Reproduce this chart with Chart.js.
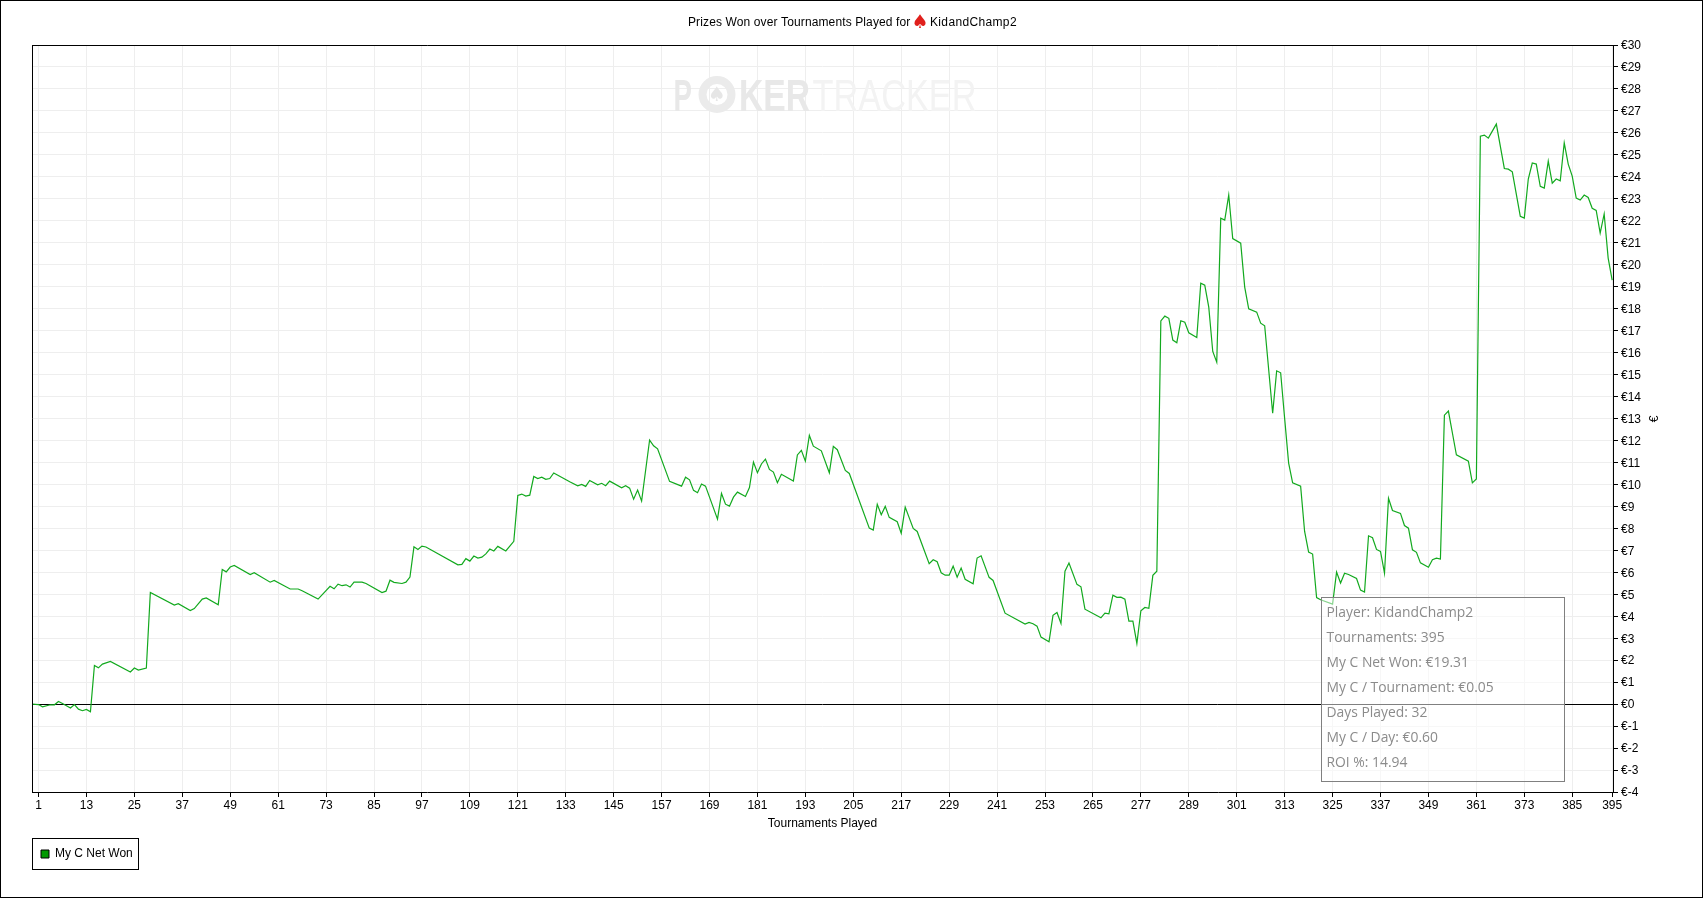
<!DOCTYPE html>
<html><head><meta charset="utf-8">
<style>html,body{margin:0;padding:0;background:#fff}canvas{display:block}</style>
<script src="https://cdn.jsdelivr.net/npm/chart.js@4"></script></head>
<body><canvas id="c" width="1703" height="898"></canvas>
<script>
const tournaments=[-0.6,1,2,4,5,6,7,9,10,11,12,13,14,15,16,17,19,24,25,26,28,29,35,36,39,40,42,43,46,47,48,49,50,54,55,59,60,64,66,67,71,74,75,76,77,78,79,80,82,83,87,88,89,90,92,93,94,95,96,97,98,106,107,108,109,110,111,112,113,114,115,116,118,120,121,122,123,124,125,126,127,128,129,130,134,136,137,138,139,141,142,143,144,147,148,149,150,151,152,154,155,156,159,162,163,164,165,166,167,168,171,172,173,174,175,176,178,179,180,181,182,183,184,185,186,187,190,191,192,193,194,195,197,199,200,201,203,204,209,210,211,212,213,214,216,217,218,220,221,224,225,226,227,228,229,230,231,232,233,235,236,237,239,240,243,248,249,250,251,252,254,255,256,257,258,259,261,262,263,267,268,269,270,271,272,273,274,275,276,277,278,279,280,281,282,283,284,285,286,287,288,289,291,292,293,294,295,296,297,298,299,300,302,303,304,306,307,308,310,311,312,313,314,315,317,318,319,320,321,322,325,326,327,328,329,331,332,333,334,335,336,337,338,339,340,342,343,344,345,346,347,349,350,351,352,353,354,355,356,359,360,361,362,363,364,366,368,369,370,372,373,374,375,376,377,378,379,380,381,382,383,384,385,386,387,388,389,390,391,392,393,394,395];
const netWon=[0,-0.02,-0.12,-0.03,-0.03,0.12,0.03,-0.18,-0.02,-0.23,-0.30,-0.24,-0.35,1.76,1.65,1.82,1.94,1.46,1.64,1.55,1.64,5.08,4.51,4.57,4.26,4.35,4.78,4.83,4.52,6.13,6.02,6.24,6.31,5.90,5.98,5.55,5.63,5.24,5.24,5.16,4.78,5.36,5.25,5.46,5.39,5.43,5.33,5.55,5.55,5.49,5.08,5.14,5.64,5.54,5.49,5.55,5.78,7.16,7.04,7.19,7.15,6.34,6.36,6.62,6.51,6.74,6.65,6.69,6.84,7.06,6.97,7.18,6.97,7.41,9.50,9.56,9.47,9.51,10.36,10.27,10.33,10.23,10.27,10.52,10.12,9.94,10.0,9.91,10.18,9.98,10.05,9.94,10.15,9.85,9.94,9.83,9.33,9.74,9.24,12.02,11.76,11.62,10.14,9.92,10.33,10.21,9.73,9.62,10.02,9.92,8.42,9.59,9.10,9.01,9.42,9.65,9.45,9.86,11.02,10.53,10.93,11.15,10.68,10.56,10.08,10.46,10.15,11.34,11.55,11.06,12.23,11.74,11.53,10.53,11.73,11.58,10.64,10.5,8.01,7.92,9.09,8.62,9.0,8.5,8.3,7.78,8.97,8.0,7.86,6.39,6.57,6.48,5.98,5.87,5.87,6.28,5.78,6.19,5.68,5.48,6.65,6.75,5.77,5.63,4.14,3.64,3.72,3.66,3.55,3.05,2.84,4.04,4.17,3.67,6.05,6.42,5.45,5.34,4.32,3.93,4.14,4.11,4.96,4.86,4.87,4.78,3.78,3.78,2.76,4.25,4.40,4.36,5.86,6.05,17.44,17.66,17.56,16.57,16.45,17.45,17.38,16.9,16.69,19.16,19.07,18.07,16.05,15.56,22.12,22.03,23.17,21.19,20.98,18.98,17.99,17.84,17.34,17.22,13.24,15.17,15.08,13.0,10.97,10.07,9.92,7.86,6.92,6.83,4.85,4.75,4.55,6.01,5.51,5.96,5.9,5.72,5.19,5.1,7.66,7.57,7.04,6.95,5.96,9.37,8.81,8.68,8.13,8.01,7.02,6.91,6.43,6.23,6.57,6.64,6.6,13.15,13.34,12.34,11.35,11.06,10.07,10.25,25.85,25.9,25.76,26.4,24.38,24.35,24.23,22.2,22.12,23.9,24.63,24.58,23.57,23.49,24.71,23.71,23.9,23.82,25.54,24.58,24.03,23.03,22.94,23.17,23.06,22.57,22.47,21.44,22.31,20.3,19.3];
const xTicks=[1,13,25,37,49,61,73,85,97,109,121,133,145,157,169,181,193,205,217,229,241,253,265,277,289,301,313,325,337,349,361,373,385,395];
const seriesName='My C Net Won';
const titleParts=['Prizes Won over Tournaments Played for','\u2660','KidandChamp2'];
const summaryLines=['Player: KidandChamp2','Tournaments: 395','My C Net Won: \u20AC19.31','My C / Tournament: \u20AC0.05','Days Played: 32','My C / Day: \u20AC0.60','ROI %: 14.94'];

const FONT='"Liberation Sans", Arial, sans-serif';
function fitText(c,s,x0,x1,base){const w=c.measureText(s).width;c.save();c.translate(x0,base);c.scale((x1-x0)/w,1);c.fillText(s,0,0);c.restore();}
const decor={id:'decor',
 beforeDatasetsDraw(ch){const c=ch.ctx;c.save();
  c.textBaseline='alphabetic';c.textAlign='left';
  c.font='bold 44px '+FONT;c.fillStyle='#e8e8e8';
  fitText(c,'P',673.6,692,110.7);
  fitText(c,'KER',739,810,110.7);
  c.beginPath();c.arc(717,94.5,14.5,0,Math.PI*2);c.lineWidth=8;c.strokeStyle='#ebebeb';c.stroke();
  c.font='20px "DejaVu Sans"';c.fillStyle='#e6e6e6';c.textAlign='center';c.fillText('\u2660',717,101);
  c.textAlign='left';c.font='44px '+FONT;c.fillStyle='#f3f3f3';
  fitText(c,'TRACKER',812.5,976.5,110.7);
  c.restore();},
 afterDraw(ch){const c=ch.ctx,a=ch.chartArea;c.save();
  c.strokeStyle='#000';c.lineWidth=1;
  c.strokeRect(0.5,0.5,1702,897);
  c.beginPath();c.moveTo(a.left+.5,a.top+.5);c.lineTo(a.right+.5,a.top+.5);
  c.moveTo(a.left+.5,a.top);c.lineTo(a.left+.5,a.bottom+.5);c.stroke();
  c.textBaseline='middle';c.textAlign='left';
  c.font='12px '+FONT;c.fillStyle='#000';
  c.letterSpacing='0.12px';c.fillText(titleParts[0],688,23);
  c.letterSpacing='0.35px';c.fillText(titleParts[2],930,23);
  c.letterSpacing='0px';
  c.font='19px "DejaVu Sans"';c.fillStyle='#e0201c';c.textAlign='center';c.fillText(titleParts[1],920,23);
  c.textAlign='left';
  // axis unit, turned counter-clockwise like the reference
  c.save();c.translate(1654.5,419);c.rotate(-Math.PI/2);c.font='12px '+FONT;c.fillStyle='#000';c.textAlign='center';c.fillText('\u20AC',0,0);c.restore();
  // legend frame
  c.strokeRect(32.5,838.5,106,31);
  // summary panel
  c.fillStyle='rgba(255,255,255,0.5)';c.fillRect(1322,597,243,184);
  c.strokeStyle='#808080';c.strokeRect(1321.5,597.5,243,184);
  c.font='15px "Open Sans"';c.fillStyle='#8b8b8b';c.textBaseline='middle';
  summaryLines.forEach((s,i)=>{c.save();c.translate(1326.5,613+25*i);c.scale(0.925,1);c.fillText(s,0,0);c.restore();});
  c.restore();}
};
new Chart(document.getElementById('c'),{type:'line',
 data:{datasets:[{label:seriesName,data:tournaments.map((t,i)=>({x:t,y:netWon[i]})),
  borderColor:'#12a91e',backgroundColor:'#009900',borderWidth:1.2,pointRadius:0,tension:0,fill:false}]},
 options:{responsive:false,animation:false,devicePixelRatio:1,
  layout:{padding:{left:32,top:45,right:0,bottom:28}},
  plugins:{tooltip:{enabled:false},title:{display:false},
   legend:{position:'bottom',align:'start',
    labels:{boxWidth:8,boxHeight:8,padding:9,color:'#000',font:{family:FONT,size:12},
     generateLabels:ch=>[{text:seriesName,fillStyle:'#009900',strokeStyle:'#000',lineWidth:1,datasetIndex:0}]}}},
  scales:{
   x:{type:'linear',min:-0.63,max:395.21,
    afterBuildTicks:s=>{s.ticks=xTicks.map(v=>({value:v}));},
    afterFit:s=>{s.height=47;},
    ticks:{autoSkip:false,maxRotation:0,minRotation:0,padding:1,color:'#000',font:{family:FONT,size:12},callback:v=>String(v)},
    grid:{color:'#eeeeee',lineWidth:1,tickColor:'#000',tickLength:5},
    border:{color:'#000',width:1},
    title:{display:true,text:'Tournaments Played',color:'#000',font:{family:FONT,size:12},padding:{top:0,bottom:8}}},
   y:{position:'right',min:-4,max:30,
    afterFit:s=>{s.width=90;},
    ticks:{stepSize:1,autoSkip:false,padding:3,labelOffset:1,color:'#000',font:{family:FONT,size:12},callback:v=>'\u20AC'+v},
    grid:{color:c=>c.tick&&c.tick.value===0?'#000':'#eeeeee',lineWidth:1,tickColor:'#000',tickLength:5},
    border:{color:'#000',width:1},
    title:{display:false}}
  }},
 plugins:[decor]});
</script></body></html>
